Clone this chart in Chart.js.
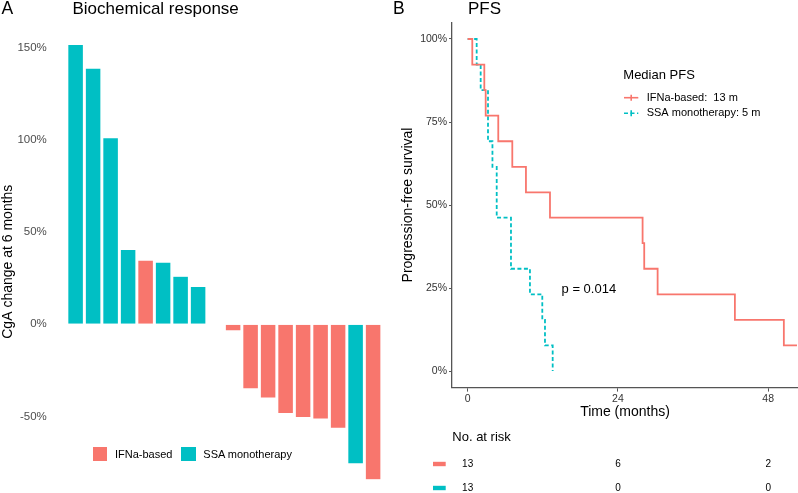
<!DOCTYPE html>
<html><head><meta charset="utf-8">
<script src="https://cdn.jsdelivr.net/npm/chart.js@4/dist/chart.umd.min.js"></script>
<style>
html,body{margin:0;padding:0;background:#fff;overflow:hidden;width:798px;height:493px;}
body{position:relative;font-family:"Liberation Sans",Arial,sans-serif;}
#ca{position:absolute;left:0;top:0;display:block;}
#cb{position:absolute;left:390px;top:0;display:block;}
.t{position:absolute;white-space:nowrap;color:#000;line-height:1;}
.sq{position:absolute;width:14.5px;height:14.5px;}
</style></head><body>
<canvas id="ca" width="392" height="510" style="width:392px;height:510px"></canvas>
<canvas id="cb" width="408" height="493" style="width:408px;height:493px"></canvas>
<div class="t" style="left:1.5px;top:-0.5px;font-size:17.5px">A</div>
<div class="t" style="left:72.5px;top:-0.5px;font-size:17px">Biochemical response</div>
<div class="t" style="left:393px;top:-0.5px;font-size:17.5px">B</div>
<div class="t" style="left:468px;top:-0.5px;font-size:17px">PFS</div>
<div class="sq" style="left:92.7px;top:446.7px;background:#F8766D"></div>
<div class="t" style="left:115px;top:448.9px;font-size:11px">IFNa-based</div>
<div class="sq" style="left:181px;top:446.7px;background:#00BFC4"></div>
<div class="t" style="left:203.3px;top:448.9px;font-size:11px">SSA monotherapy</div>
<script>
// ---------- Panel A data ----------
const patients = ['P1','P2','P3','P4','P5','P6','P7','P8','P9','P10','P11','P12','P13','P14','P15','P16','P17','P18'];
const cgaChange = [152.0, 139.1, 101.3, 40.7, 34.9, 33.8, 26.1, 20.6, 0, -3.6, -35.1, -40.0, -48.5, -50.7, -51.4, -56.5, -75.8, -84.4];
const treatment = ['SSA monotherapy','SSA monotherapy','SSA monotherapy','SSA monotherapy','IFNa-based','SSA monotherapy','SSA monotherapy','SSA monotherapy','SSA monotherapy','IFNa-based','IFNa-based','IFNa-based','IFNa-based','IFNa-based','IFNa-based','IFNa-based','SSA monotherapy','IFNa-based'];
const yTicksA = [-50, 0, 50, 100, 150];

// ---------- Panel B data ----------
const ifnTimes = [0, 0.74, 2.66, 2.88, 4.89, 7.13, 9.31, 13.15, 27.94, 28.2, 30.34, 42.68, 50.5, 52.6];
const ifnSurv  = [100, 92.3, 84.6, 76.9, 69.2, 61.5, 53.8, 46.2, 38.5, 30.8, 23.1, 15.4, 7.7, 7.7];
const ssaTimes = [0, 1.44, 2.08, 3.25, 3.96, 4.64, 6.92, 9.95, 11.92, 12.35, 13.58];
const ssaSurv  = [100, 92.3, 84.6, 69.2, 61.5, 46.2, 30.8, 23.1, 15.4, 7.7, 0];
const xTicksB = [0, 24, 48];
const yTicksB = [0, 25, 50, 75, 100];
const riskTimes = [0, 24, 48];
const riskIFN = [13, 6, 2];
const riskSSA = [13, 0, 0];
const medianLabels = ['IFNa-based:  13 m', 'SSA monotherapy: 5 m'];
const pValueText = 'p = 0.014';
const pValuePos = [15, 24.6];

const COL = {'IFNa-based':'#F8766D','SSA monotherapy':'#00BFC4'};
const FF = '"Liberation Sans", Arial, sans-serif';
Chart.defaults.font.family = FF;

new Chart(document.getElementById('ca'), {
  type: 'bar',
  data: { labels: patients, datasets: [{
    data: cgaChange,
    backgroundColor: treatment.map(g => COL[g]),
    borderColor: 'rgba(255,255,255,0.75)', borderWidth: 0.6,
    barPercentage: 0.9, categoryPercentage: 1.0
  }]},
  options: {
    animation: false, responsive: false, devicePixelRatio: 1,
    layout: { padding: { left: 0, right: 10.15, top: 24.1, bottom: 10.7 } },
    plugins: { legend: { display: false }, tooltip: { enabled: false } },
    scales: {
      x: { display: false, offset: true, grid: { display: false } },
      y: {
        min: -95, max: 163,
        afterBuildTicks: s => { s.ticks = yTicksA.map(v => ({ value: v })); },
        afterFit: s => { s.width = 66.85; },
        border: { display: false },
        grid: { display: true, drawOnChartArea: false, drawTicks: true, tickLength: 20, color: 'rgba(0,0,0,0)' },
        ticks: { padding: 0, color: '#4d4d4d', font: { size: 11.5 }, callback: v => v + '%' },
        title: { display: true, text: 'CgA change at 6 months', color: '#000', font: { size: 14 }, padding: 0 }
      }
    }
  }
});

const overlayB = {
  id: 'overlayB',
  afterDraw(chart) {
    const ctx = chart.ctx, xs = chart.scales.x, ys = chart.scales.y;
    const ox = 390;
    ctx.save();
    ctx.fillStyle = '#000'; ctx.textBaseline = 'middle'; ctx.textAlign = 'left';
    ctx.font = '13px ' + FF;
    ctx.fillText(pValueText, xs.getPixelForValue(pValuePos[0]), ys.getPixelForValue(pValuePos[1]));
    ctx.fillText('Median PFS', 623.3 - ox, 75.7);
    ctx.font = '11px ' + FF;
    const cols = [COL['IFNa-based'], COL['SSA monotherapy']];
    [97.7, 113.3].forEach((y, i) => {
      ctx.strokeStyle = cols[i]; ctx.lineWidth = 1.6;
      ctx.setLineDash(i === 1 ? [4, 2.5] : []);
      ctx.beginPath(); ctx.moveTo(624 - ox, y); ctx.lineTo(638.3 - ox, y); ctx.stroke();
      ctx.setLineDash([]);
      ctx.beginPath(); ctx.moveTo(631.2 - ox, y - 3); ctx.lineTo(631.2 - ox, y + 3); ctx.stroke();
      ctx.fillStyle = '#000';
      ctx.fillText(medianLabels[i], 646.7 - ox, y);
    });
    ctx.font = '13px ' + FF;
    ctx.fillText('No. at risk', 452.3 - ox, 437);
    ctx.font = '10px ' + FF;
    ctx.textAlign = 'center';
    [riskIFN, riskSSA].forEach((row, i) => {
      const y = 464 + i * 24;
      ctx.fillStyle = cols[i];
      ctx.fillRect(433 - ox, y - 2.2, 12.7, 4.4);
      ctx.fillStyle = '#000';
      riskTimes.forEach((t, j) => ctx.fillText(String(row[j]), xs.getPixelForValue(t), y));
    });
    ctx.restore();
  }
};

new Chart(document.getElementById('cb'), {
  type: 'line',
  data: { datasets: [
    { label: 'IFNa-based', data: ifnTimes.map((t, i) => ({ x: t, y: ifnSurv[i] })),
      borderColor: '#F8766D', borderWidth: 1.8, stepped: true, pointRadius: 0, fill: false },
    { label: 'SSA monotherapy', data: ssaTimes.map((t, i) => ({ x: t, y: ssaSurv[i] })),
      borderColor: '#00BFC4', borderWidth: 1.8, borderDash: [4, 2.5], stepped: true, pointRadius: 0, fill: false }
  ]},
  options: {
    animation: false, responsive: false, devicePixelRatio: 1,
    layout: { padding: { left: 0, right: 0, top: 22.4, bottom: 71.4 } },
    plugins: { legend: { display: false }, tooltip: { enabled: false } },
    scales: {
      x: {
        type: 'linear', min: -2.5, max: 52.76,
        afterBuildTicks: s => { s.ticks = xTicksB.map(v => ({ value: v })); },
        afterFit: s => { s.height = 34; },
        border: { display: true, color: '#555', width: 1.3 },
        grid: { drawOnChartArea: false, drawTicks: true, tickLength: 4, color: '#555' },
        ticks: { padding: 1, color: '#333', font: { size: 10.5 }, maxRotation: 0, autoSkip: false },
        title: { display: true, text: 'Time (months)', color: '#000', font: { size: 14 }, padding: { top: 0, bottom: 1 } }
      },
      y: {
        min: -5, max: 105,
        afterBuildTicks: s => { s.ticks = yTicksB.map(v => ({ value: v })); },
        afterFit: s => { s.width = 62; },
        border: { display: true, color: '#555', width: 1.3 },
        grid: { drawOnChartArea: false, drawTicks: true, tickLength: 3, color: '#555' },
        ticks: { padding: 2, color: '#333', font: { size: 10.5 }, callback: v => v + '%' },
        title: { display: true, text: 'Progression-free survival', color: '#000', font: { size: 14 }, padding: { top: 9.6, bottom: 0 } }
      }
    }
  },
  plugins: [overlayB]
});
</script>
</body></html>
